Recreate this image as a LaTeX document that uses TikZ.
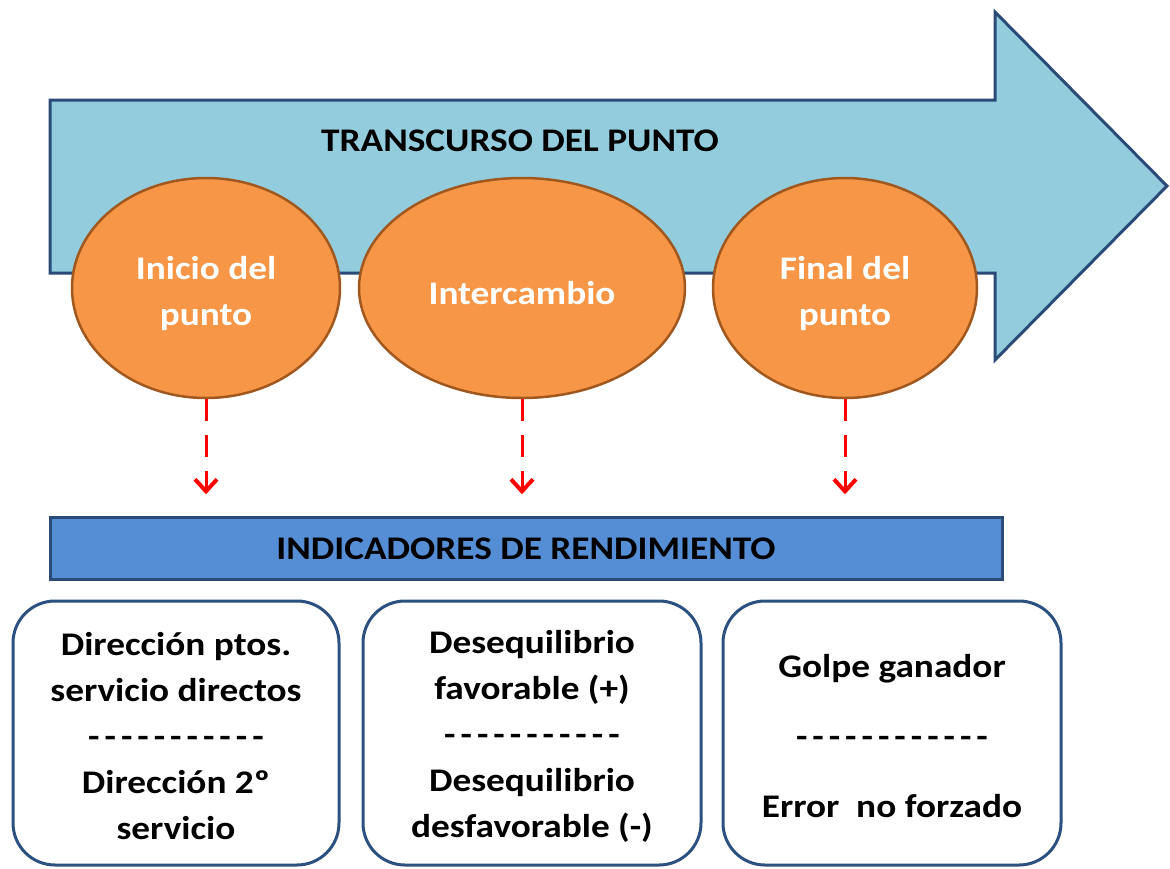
\documentclass[tikz,border=0pt]{standalone}
\usepackage{fontspec}
\setmainfont{Carlito}[FakeStretch=1.13]
\usetikzlibrary{shapes.geometric,arrows.meta}
\definecolor{arrowfill}{HTML}{93CDDD}
\definecolor{navy}{HTML}{2A4A78}
\definecolor{orangefill}{HTML}{F79646}
\definecolor{brownline}{HTML}{A0581F}
\definecolor{barfill}{HTML}{558ED5}
\definecolor{boxline}{HTML}{2C5080}
\tikzset{
  bigtext/.style={font=\bfseries\fontsize{33pt}{46pt}\selectfont},
  phase/.style={ellipse, fill=orangefill, draw=brownline, line width=2.5pt,
    inner sep=0pt, minimum height=220pt},
  phasetext/.style={text=white, align=center, bigtext, inner sep=0pt},
  redarrow/.style={red, line width=3pt, dash pattern=on 22pt off 14pt,
    -{Straight Barb[length=12pt,width=22pt,line width=4pt]}},
  indbox/.style={draw=boxline, line width=3pt, rounded corners=42pt, fill=white,
    minimum height=264pt},
  boxtext/.style={align=center, bigtext, text=black, inner sep=0pt},
}
\newcommand{\sepline}[1]{\foreach \i in {1,...,#1}{-\hspace{5pt}}}
\begin{document}
\begin{tikzpicture}[x=1pt,y=-1pt]
\useasboundingbox (0,0) rectangle (1170,868);
% big arrow
\draw[fill=arrowfill, draw=navy, line width=3pt, line join=miter]
  (50,100) -- (995,100) -- (995,12) -- (1167,186) -- (995,360) -- (995,273) -- (50,273) -- cycle;
\node[bigtext] (title) at (520,141) {TRANSCURSO DEL PUNTO};
% phases
\node[phase, minimum width=268pt] (e1) at (206,288) {};
\node[phase, minimum width=326pt] (e2) at (522,288) {};
\node[phase, minimum width=264pt] (e3) at (845,288) {};
\node[phasetext] (l1) at ([yshift=-6pt]e1.center) {Inicio del\\punto};
\node[phasetext] (l2) at ([yshift=-5pt]e2.center) {Intercambio};
\node[phasetext] (l3) at ([yshift=-6pt]e3.center) {Final del\\punto};
% bar
\node[draw=navy, fill=barfill, line width=3pt, minimum width=952pt, minimum height=62pt,
  inner sep=0pt, bigtext] (bar) at (526,548.5) {INDICADORES DE RENDIMIENTO};
% arrow targets
\coordinate (t1) at ([yshift=-95pt]e1.south);
\coordinate (t2) at ([yshift=-95pt]e2.south);
\coordinate (t3) at ([yshift=-95pt]e3.south);
\draw[redarrow] (e1.south) -- (t1);
\draw[redarrow] (e2.south) -- (t2);
\draw[redarrow] (e3.south) -- (t3);
% indicator boxes
\node[indbox, minimum width=326pt] (b1) at (176,733) {};
\node[indbox, minimum width=338pt] (b2) at (532,733) {};
\node[indbox, minimum width=338pt] (b3) at (892,733) {};
\node[boxtext] (b1t) at ([yshift=-3.5pt]b1.center)
  {Dirección ptos.\\servicio directos\\\sepline{11}\\Dirección 2º\\servicio};
\node[boxtext] (b2t) at ([yshift=-3.5pt]b2.center)
  {Desequilibrio\\favorable (+)\\\sepline{11}\\Desequilibrio\\desfavorable (-)};
\node[boxtext] (b3t) at ([yshift=-3pt]b3.center)
  {Golpe ganador\\[24pt]\sepline{12}\\[24pt]Error\ \ no forzado};
\end{tikzpicture}
\end{document}
